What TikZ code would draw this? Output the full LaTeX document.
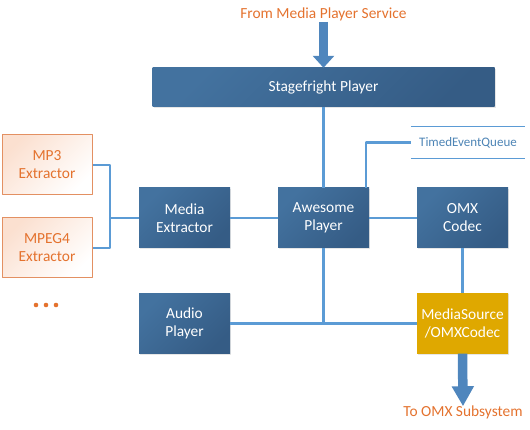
\documentclass[tikz,border=0pt]{standalone}
\usepackage{fontspec}
\setmainfont{Carlito}
\usetikzlibrary{arrows.meta,shadows}
\definecolor{boxtop}{HTML}{43729F}
\definecolor{boxbot}{HTML}{355C85}
\definecolor{wire}{HTML}{5B9BD5}
\definecolor{fatblue}{HTML}{4F86BD}
\definecolor{gold}{HTML}{DFA800}
\definecolor{rust}{HTML}{E4722E}
\definecolor{rustline}{HTML}{E39062}
\definecolor{peach}{HTML}{FBE0D0}
\begin{document}
\begin{tikzpicture}[x=1pt,y=-1pt, font=\fontsize{15.4}{18}\selectfont, line join=round,
  blk/.style={minimum width=91pt, minimum height=60pt, inner sep=0pt, align=center, text=white,
    top color=boxtop, bottom color=boxbot, shading angle=45,
    drop shadow={shadow xshift=1pt, shadow yshift=-1pt, opacity=0.2}},
  ext/.style={minimum width=90pt, minimum height=60pt, inner sep=0pt, align=center, text=rust,
    draw=rustline, line width=1pt, top color=peach, bottom color=white, shading angle=45},
  conn/.style={draw=wire, line width=2.3pt},
  fat/.style={draw=fatblue, line width=9.5pt, -{Triangle[width=21pt,length=#1]}},
  lbl/.style={text=rust, inner sep=1pt}]
\useasboundingbox (0,0) rectangle (530,430);
% top and bottom labels
\node[lbl] (src) at (323.5,14) {From Media Player Service};
\node[lbl] (dst) at (463,412) {To OMX Subsystem};
% main boxes
\node[blk, minimum width=342pt, minimum height=39pt] (sf) at (323.5,87.5) {Stagefright Player};
\foreach \n/\x/\y/\t in {mex/184.5/218/{Media\\Extractor}, awe/323.5/218/{Awesome\\Player},
  omx/462.5/218/{OMX\\Codec}, aud/184.5/323.5/{Audio\\Player}}
  \node[blk] (\n) at (\x,\y) {\t};
\node[blk, top color=gold, bottom color=gold] (msrc) at (462.5,323.5) {MediaSource\\/OMXCodec};
% extractors
\node[ext] (mp3) at (47,165) {MP3\\Extractor};
\node[ext] (mp4) at (47,248) {MPEG4\\Extractor};
\foreach \x in {36,46,56} \fill[rust] (\x,305) circle(2.3);
% event queue store
\node[minimum width=114pt, minimum height=31pt, inner sep=0pt, text=wire!85!black,
  font=\fontsize{13}{15}\selectfont] (teq) at (468,142.5) {TimedEventQueue};
\draw[wire, line width=0.9pt] (teq.north west) -- (teq.north east)
  (teq.south west) -- (teq.south east);
% wires
\coordinate (j) at (110,218);
\draw[conn] (mp3.east) -| (j) |- (mp4.east);
\draw[conn] (j) -- (mex.west);
\draw[conn] (mex) -- (awe);
\draw[conn] (awe) -- (omx);
\draw[conn] (omx) -- (msrc);
\draw[conn] (sf.south) -- (awe.north);
\draw[conn] ([xshift=-3pt]awe.north east) |- (teq.west);
\coordinate (k) at (awe.south |- aud.east);
\draw[conn] (awe.south) -- (k);
\draw[conn] (aud.east) -- (msrc.west);
% big arrows
\draw[fat=12pt] (src.south) -- (sf.north);
\draw[fat=20pt] (msrc.south) -- ([yshift=-2pt]dst.north);
\end{tikzpicture}
\end{document}
